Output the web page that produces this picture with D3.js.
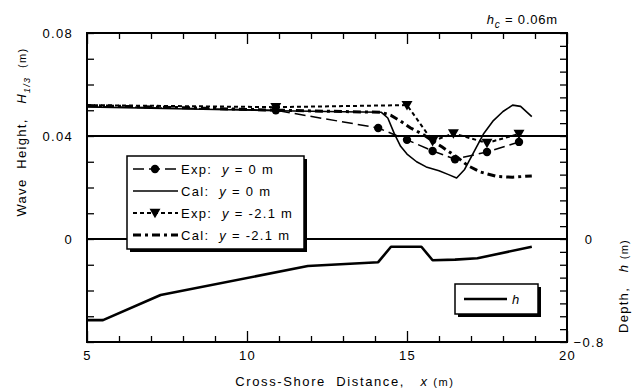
<!DOCTYPE html>
<html>
<head>
<meta charset="utf-8">
<script src="https://cdn.jsdelivr.net/npm/d3@7"></script>
<style>
  body { margin: 0; background: #fff; }
  svg { display: block; }
  text { font-family: Arial, "Liberation Sans", sans-serif; fill: #000; }
</style>
</head>
<body>
<svg id="chart" width="642" height="392"></svg>
<script>
// Calculated wave height along y = 0 m
const calY0X = [5.0, 7.0, 9.0, 11.0, 13.0, 14.2, 14.4, 14.6, 14.8, 15.0, 15.3, 15.6, 16.0, 16.3, 16.55, 16.8, 17.1, 17.4, 17.7, 18.0, 18.3, 18.55, 18.9];
const calY0H = [0.0513, 0.0508, 0.0503, 0.0498, 0.0494, 0.0492, 0.0470, 0.0410, 0.0360, 0.0330, 0.0300, 0.0280, 0.0265, 0.0250, 0.0237, 0.0270, 0.0340, 0.0410, 0.0460, 0.0495, 0.0520, 0.0515, 0.0475];

// Measured wave height along y = 0 m (first value is the offshore input)
const expY0X = [5.0, 10.9, 14.1, 15.0, 15.8, 16.5, 17.5, 18.5];
const expY0H = [0.0515, 0.0500, 0.0431, 0.0385, 0.0342, 0.0310, 0.0338, 0.0377];

// Measured wave height along y = -2.1 m (first value is the offshore input)
const expY21X = [5.0, 10.9, 15.0, 15.8, 16.45, 17.5, 18.5];
const expY21H = [0.0520, 0.0512, 0.0520, 0.0380, 0.0410, 0.0373, 0.0408];

// Calculated wave height along y = -2.1 m
const calY21X = [5.0, 8.0, 11.0, 13.0, 14.2, 14.5, 14.8, 15.1, 15.5, 16.1, 16.6, 16.9, 17.3, 17.8, 18.3, 18.9];
const calY21H = [0.0518, 0.0510, 0.0500, 0.0495, 0.0492, 0.0480, 0.0458, 0.0432, 0.0406, 0.0357, 0.0315, 0.0285, 0.0260, 0.0243, 0.0240, 0.0245];

// Still-water depth profile h (m), submerged breakwater crest at hc = 0.06 m
const depthX = [5.0, 5.5, 7.3, 11.9, 14.1, 14.5, 15.45, 15.8, 16.5, 17.2, 18.9];
const depthH = [-0.63, -0.63, -0.435, -0.21, -0.18, -0.06, -0.06, -0.165, -0.16, -0.15, -0.06];

// Axis ticks and labels
const xTicks = d3.range(5, 21);
const xTickLabels = [5, 10, 15, 20];
const hTicks = d3.range(-4, 9).map(d => d / 100);
const hTickLabels = [0, 0.04, 0.08];
const depthTicks = d3.range(-8, 17).map(d => d / 10);
const depthTickLabels = [0, -0.8];
const hGridLines = [0, 0.04];

const svg = d3.select("#chart");
const pLeft = 87, pRight = 567, pTop = 33, pBottom = 342;

const x = d3.scaleLinear().domain([5, 20]).range([pLeft, pRight]);
const yH = d3.scaleLinear().domain([-0.04, 0.08]).range([pBottom, pTop]);
const yD = d3.scaleLinear().domain([-0.8, 1.6]).range([pBottom, pTop]);

const near = (a, b) => Math.abs(a - b) < 1e-9;
const isLabel = (arr, d) => arr.some(v => near(v, d));

// Axes with inward ticks
function styleAxis(g, major, len) {
  g.select(".domain").remove();
  g.selectAll(".tick line").attr("stroke", "#000").attr("stroke-width", 1.3);
  g.selectAll(".tick text").attr("font-size", 13).attr("letter-spacing", 1.3)
    .attr("font-family", "Arial, 'Liberation Sans', sans-serif").attr("fill", "#000");
  g.selectAll(".tick").filter(d => isLabel(major, d)).select("line").each(function () {
    const l = d3.select(this);
    if (l.attr("x2") !== null && +l.attr("x2") !== 0) l.attr("x2", len);
    if (l.attr("y2") !== null && +l.attr("y2") !== 0) l.attr("y2", len);
  });
}

const fmtX = d => isLabel(xTickLabels, d) ? d3.format("d")(d) : "";
svg.append("g").attr("transform", `translate(0,${pBottom})`)
  .call(d3.axisBottom(x).tickValues(xTicks).tickSizeInner(-6).tickSizeOuter(0).tickPadding(9).tickFormat(fmtX))
  .call(g => styleAxis(g, xTickLabels, -11));
svg.append("g").attr("transform", `translate(0,${pTop})`)
  .call(d3.axisTop(x).tickValues(xTicks).tickSizeInner(-6).tickSizeOuter(0).tickFormat(""))
  .call(g => styleAxis(g, xTickLabels, 11));

const fmtH = d => isLabel(hTickLabels, d) ? (near(d, 0) ? "0" : d3.format(".2f")(d)) : "";
svg.append("g").attr("transform", `translate(${pLeft},0)`)
  .call(d3.axisLeft(yH).tickValues(hTicks).tickSizeInner(-7).tickSizeOuter(0).tickPadding(14).tickFormat(fmtH))
  .call(g => styleAxis(g, [], 0));

const fmtD = d => isLabel(depthTickLabels, d) ? (near(d, 0) ? "0" : d3.format(".1f")(d)) : "";
svg.append("g").attr("transform", `translate(${pRight},0)`)
  .call(d3.axisRight(yD).tickValues(depthTicks).tickSizeInner(-7).tickSizeOuter(0).tickFormat(fmtD))
  .call(g => styleAxis(g, [], 0))
  .call(g => g.selectAll(".tick text").attr("text-anchor", "middle").attr("x", 22));

// Reference lines at H = 0 and H = 0.04
svg.append("g").selectAll("line").data(hGridLines).join("line")
  .attr("x1", pLeft).attr("x2", pRight)
  .attr("y1", d => yH(d)).attr("y2", d => yH(d))
  .attr("stroke", "#000").attr("stroke-width", 2);

// Curves
const pts = (xs, ys) => xs.map((v, i) => [v, ys[i]]);
const lineH = d3.line().x(d => x(d[0])).y(d => yH(d[1]));
const lineD = d3.line().x(d => x(d[0])).y(d => yD(d[1]));

const plot = svg.append("g");
plot.append("path").datum(pts(depthX, depthH)).attr("d", lineD)
  .attr("fill", "none").attr("stroke", "#000").attr("stroke-width", 2.6).attr("stroke-linejoin", "round");
plot.append("path").datum(pts(calY21X, calY21H)).attr("d", lineH)
  .attr("fill", "none").attr("stroke", "#000").attr("stroke-width", 3).attr("stroke-dasharray", "8,4,3,4");
plot.append("path").datum(pts(calY0X, calY0H)).attr("d", lineH)
  .attr("fill", "none").attr("stroke", "#000").attr("stroke-width", 1.6).attr("stroke-linejoin", "round");
plot.append("path").datum(pts(expY0X, expY0H)).attr("d", lineH)
  .attr("fill", "none").attr("stroke", "#000").attr("stroke-width", 1.5).attr("stroke-dasharray", "11,5");
plot.append("path").datum(pts(expY21X, expY21H)).attr("d", lineH)
  .attr("fill", "none").attr("stroke", "#000").attr("stroke-width", 2).attr("stroke-dasharray", "4,3");

const tri = d3.symbol().type(d3.symbolTriangle).size(52);
plot.append("g").selectAll("circle").data(pts(expY0X, expY0H).filter(d => d[0] > 5)).join("circle")
  .attr("cx", d => x(d[0])).attr("cy", d => yH(d[1])).attr("r", 4.2).attr("fill", "#000");
plot.append("g").selectAll("path").data(pts(expY21X, expY21H).filter(d => d[0] > 5)).join("path")
  .attr("d", tri).attr("transform", d => `translate(${x(d[0])},${yH(d[1]) - 1}) rotate(180)`).attr("fill", "#000");

// Frame
svg.append("rect").attr("x", pLeft).attr("y", pTop).attr("width", pRight - pLeft).attr("height", pBottom - pTop)
  .attr("fill", "none").attr("stroke", "#000").attr("stroke-width", 2);

// Main legend
const leg = svg.append("g");
leg.append("rect").attr("x", 130).attr("y", 159).attr("width", 177).attr("height", 93).attr("fill", "#000");
leg.append("rect").attr("x", 127).attr("y", 156).attr("width", 177).attr("height", 93)
  .attr("fill", "#fff").attr("stroke", "#000").attr("stroke-width", 1.5);
const legendItems = [
  { kind: "Exp", y: "0", dash: "11,5", w: 1.5, mark: "circle" },
  { kind: "Cal", y: "0", dash: null, w: 1.6, mark: null },
  { kind: "Exp", y: "-2.1", dash: "4,3", w: 2, mark: "tri" },
  { kind: "Cal", y: "-2.1", dash: "8,4,3,4", w: 3, mark: null }
];
legendItems.forEach((it, i) => {
  const cy = 169 + i * 22;
  leg.append("line").attr("x1", 133).attr("x2", 178).attr("y1", cy).attr("y2", cy)
    .attr("stroke", "#000").attr("stroke-width", it.w).attr("stroke-dasharray", it.dash);
  if (it.mark === "circle") leg.append("circle").attr("cx", 155).attr("cy", cy).attr("r", 4.2).attr("fill", "#000");
  if (it.mark === "tri") leg.append("path").attr("d", tri).attr("transform", `translate(155,${cy - 1}) rotate(180)`).attr("fill", "#000");
  const t = leg.append("text").attr("x", 181).attr("y", cy + 5).attr("font-size", 13).attr("letter-spacing", 1.3);
  t.append("tspan").text(it.kind + ":\u00a0\u00a0");
  t.append("tspan").attr("font-style", "italic").text("y");
  t.append("tspan").text(" = " + it.y + " m");
});

// Depth legend
const leg2 = svg.append("g");
leg2.append("rect").attr("x", 458).attr("y", 287).attr("width", 83).attr("height", 30).attr("fill", "#000");
leg2.append("rect").attr("x", 455).attr("y", 284).attr("width", 83).attr("height", 30)
  .attr("fill", "#fff").attr("stroke", "#000").attr("stroke-width", 1.5);
leg2.append("line").attr("x1", 464).attr("x2", 507).attr("y1", 299).attr("y2", 299)
  .attr("stroke", "#000").attr("stroke-width", 2.6);
leg2.append("text").attr("x", 512).attr("y", 304).attr("font-size", 13).attr("font-style", "italic").text("h");

// Crest depth note
const hc = svg.append("text").attr("x", 558).attr("y", 24).attr("text-anchor", "end").attr("font-size", 13).attr("letter-spacing", 0.8);
hc.append("tspan").attr("font-style", "italic").text("h");
hc.append("tspan").attr("font-style", "italic").attr("font-size", 10).attr("dy", 4).text("c");
hc.append("tspan").attr("dy", -4).text(" = 0.06m");

// Axis titles
const xt = svg.append("text").attr("x", 345).attr("y", 386).attr("text-anchor", "middle").attr("font-size", 13).attr("letter-spacing", 1.6);
xt.append("tspan").text("Cross-Shore\u00a0\u00a0Distance,\u00a0\u00a0\u00a0");
xt.append("tspan").attr("font-style", "italic").text("x");
xt.append("tspan").attr("font-size", 11).text(" (m)");

const yt = svg.append("text").attr("transform", "translate(26,132) rotate(-90)").attr("text-anchor", "middle")
  .attr("font-size", 13).attr("letter-spacing", 1.3);
yt.append("tspan").text("Wave\u00a0\u00a0Height,\u00a0\u00a0\u00a0");
yt.append("tspan").attr("font-style", "italic").text("H");
yt.append("tspan").attr("font-style", "italic").attr("font-size", 9).attr("dy", 4).text("1/3");
yt.append("tspan").attr("font-size", 11).attr("dy", -4).text("\u00a0\u00a0(m)");

const dt = svg.append("text").attr("transform", "translate(628,286) rotate(-90)").attr("text-anchor", "middle")
  .attr("font-size", 13).attr("letter-spacing", 1.3);
dt.append("tspan").text("Depth,\u00a0\u00a0\u00a0");
dt.append("tspan").attr("font-style", "italic").text("h");
dt.append("tspan").attr("font-size", 11).text("\u00a0(m)");
</script>
</body>
</html>
